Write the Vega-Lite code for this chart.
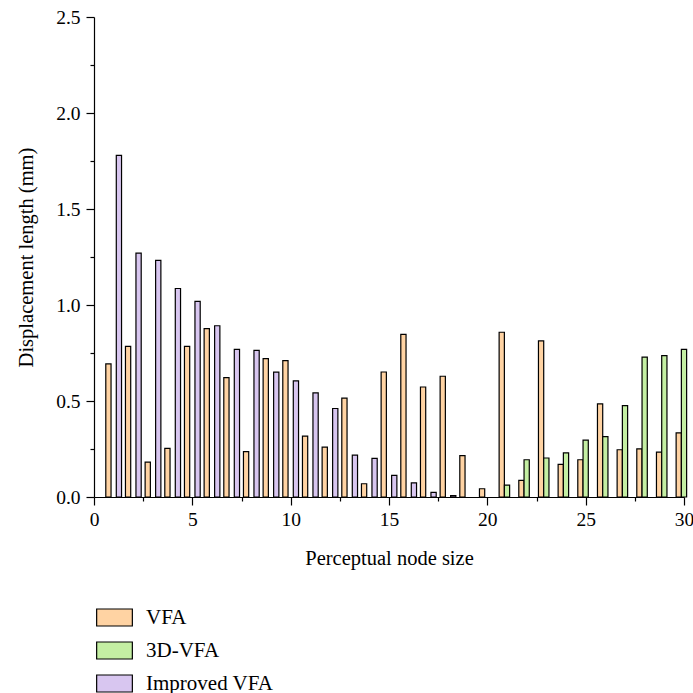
{
  "$schema": "https://vega.github.io/schema/vega-lite/v6.json",
  "width": 590,
  "height": 480,
  "autosize": {"type": "none"},
  "padding": {"left": 94, "top": 17, "right": 9, "bottom": 196},
  "config": {
    "view": {"stroke": null},
    "font": "Liberation Serif",
    "axis": {
      "labelFont": "Liberation Serif",
      "titleFont": "Liberation Serif",
      "labelFontSize": 19.5,
      "titleFontSize": 20.5,
      "titleFontWeight": "normal",
      "labelColor": "#000",
      "titleColor": "#000",
      "domainColor": "#000",
      "tickColor": "#000",
      "domainWidth": 1.2,
      "tickWidth": 1.2,
      "grid": false
    },
    "legend": {
      "labelFont": "Liberation Serif",
      "labelFontSize": 21,
      "labelColor": "#000"
    }
  },
  "data": {
    "values": [
      {"size": 1, "series": "VFA", "value": 0.693},
      {"size": 2, "series": "VFA", "value": 0.785},
      {"size": 3, "series": "VFA", "value": 0.182},
      {"size": 4, "series": "VFA", "value": 0.253},
      {"size": 5, "series": "VFA", "value": 0.785},
      {"size": 6, "series": "VFA", "value": 0.877},
      {"size": 7, "series": "VFA", "value": 0.622},
      {"size": 8, "series": "VFA", "value": 0.236},
      {"size": 9, "series": "VFA", "value": 0.721},
      {"size": 10, "series": "VFA", "value": 0.710},
      {"size": 11, "series": "VFA", "value": 0.317},
      {"size": 12, "series": "VFA", "value": 0.260},
      {"size": 13, "series": "VFA", "value": 0.515},
      {"size": 14, "series": "VFA", "value": 0.069},
      {"size": 15, "series": "VFA", "value": 0.651},
      {"size": 16, "series": "VFA", "value": 0.847},
      {"size": 17, "series": "VFA", "value": 0.573},
      {"size": 18, "series": "VFA", "value": 0.629},
      {"size": 19, "series": "VFA", "value": 0.215},
      {"size": 20, "series": "VFA", "value": 0.043},
      {"size": 21, "series": "VFA", "value": 0.858},
      {"size": 22, "series": "VFA", "value": 0.087},
      {"size": 23, "series": "VFA", "value": 0.813},
      {"size": 24, "series": "VFA", "value": 0.170},
      {"size": 25, "series": "VFA", "value": 0.194},
      {"size": 26, "series": "VFA", "value": 0.485},
      {"size": 27, "series": "VFA", "value": 0.246},
      {"size": 28, "series": "VFA", "value": 0.251},
      {"size": 29, "series": "VFA", "value": 0.234},
      {"size": 30, "series": "VFA", "value": 0.334},
      {"size": 21, "series": "3D-VFA", "value": 0.062},
      {"size": 22, "series": "3D-VFA", "value": 0.194},
      {"size": 23, "series": "3D-VFA", "value": 0.203},
      {"size": 24, "series": "3D-VFA", "value": 0.230},
      {"size": 25, "series": "3D-VFA", "value": 0.296},
      {"size": 26, "series": "3D-VFA", "value": 0.314},
      {"size": 27, "series": "3D-VFA", "value": 0.476},
      {"size": 28, "series": "3D-VFA", "value": 0.729},
      {"size": 29, "series": "3D-VFA", "value": 0.736},
      {"size": 30, "series": "3D-VFA", "value": 0.769},
      {"size": 1, "series": "Improved VFA", "value": 1.779},
      {"size": 2, "series": "Improved VFA", "value": 1.270},
      {"size": 3, "series": "Improved VFA", "value": 1.232},
      {"size": 4, "series": "Improved VFA", "value": 1.086},
      {"size": 5, "series": "Improved VFA", "value": 1.019},
      {"size": 6, "series": "Improved VFA", "value": 0.892},
      {"size": 7, "series": "Improved VFA", "value": 0.769},
      {"size": 8, "series": "Improved VFA", "value": 0.764},
      {"size": 9, "series": "Improved VFA", "value": 0.650},
      {"size": 10, "series": "Improved VFA", "value": 0.605},
      {"size": 11, "series": "Improved VFA", "value": 0.542},
      {"size": 12, "series": "Improved VFA", "value": 0.461},
      {"size": 13, "series": "Improved VFA", "value": 0.218},
      {"size": 14, "series": "Improved VFA", "value": 0.201},
      {"size": 15, "series": "Improved VFA", "value": 0.113},
      {"size": 16, "series": "Improved VFA", "value": 0.074},
      {"size": 17, "series": "Improved VFA", "value": 0.024},
      {"size": 18, "series": "Improved VFA", "value": 0.007}
    ]
  },
  "encoding": {
    "x": {
      "field": "size",
      "type": "quantitative",
      "scale": {"domain": [0, 30], "nice": false, "zero": false, "padding": 0},
      "axis": {
        "title": "Perceptual node size",
        "values": [0, 2.5, 5, 7.5, 10, 12.5, 15, 17.5, 20, 22.5, 25, 27.5, 30],
        "labelExpr": "datum.value % 5 === 0 ? datum.label : ''",
        "tickSize": {"condition": {"test": "datum.value % 5 === 0", "value": 8}, "value": 4},
        "labelPadding": 5,
        "titlePadding": 20,
        "labelFlush": false,
        "labelOverlap": false
      }
    },
    "y": {
      "field": "value",
      "type": "quantitative",
      "stack": null,
      "scale": {"domain": [0, 2.5], "nice": false},
      "axis": {
        "title": "Displacement length (mm)",
        "values": [0, 0.25, 0.5, 0.75, 1, 1.25, 1.5, 1.75, 2, 2.25, 2.5],
        "format": ".1f",
        "labelExpr": "datum.value % 0.5 === 0 ? datum.label : ''",
        "tickSize": {"condition": {"test": "datum.value % 0.5 === 0", "value": 8}, "value": 4},
        "labelPadding": 6,
        "titlePadding": 19,
        "labelFlush": false,
        "labelOverlap": false
      }
    },
    "color": {
      "field": "series",
      "type": "nominal",
      "sort": ["VFA", "3D-VFA", "Improved VFA"],
      "scale": {"domain": ["VFA", "3D-VFA", "Improved VFA"], "range": ["#FFD3A3", "#C4EFA3", "#D8C6F0"]},
      "legend": {
        "title": null,
        "orient": "none",
        "legendX": 10,
        "legendY": 590,
        "direction": "vertical",
        "padding": 0,
        "symbolType": "M-2.1,-1H2.1V1H-2.1Z",
        "symbolSize": 289,
        "symbolStrokeColor": "#000",
        "symbolStrokeWidth": 1.2,
        "symbolOpacity": 1,
        "labelOffset": 21,
        "rowPadding": 10
      }
    }
  },
  "layer": [
    {
      "transform": [{"filter": "datum.series === 'VFA'"}],
      "mark": {"type": "bar", "stroke": "#000", "strokeWidth": 1.2, "width": 5.25, "xOffset": -5.25}
    },
    {
      "transform": [{"filter": "datum.series === '3D-VFA'"}],
      "mark": {"type": "bar", "stroke": "#000", "strokeWidth": 1.2, "width": 5.25, "xOffset": 0}
    },
    {
      "transform": [{"filter": "datum.series === 'Improved VFA'"}],
      "mark": {"type": "bar", "stroke": "#000", "strokeWidth": 1.2, "width": 5.25, "xOffset": 5.25}
    }
  ]
}
